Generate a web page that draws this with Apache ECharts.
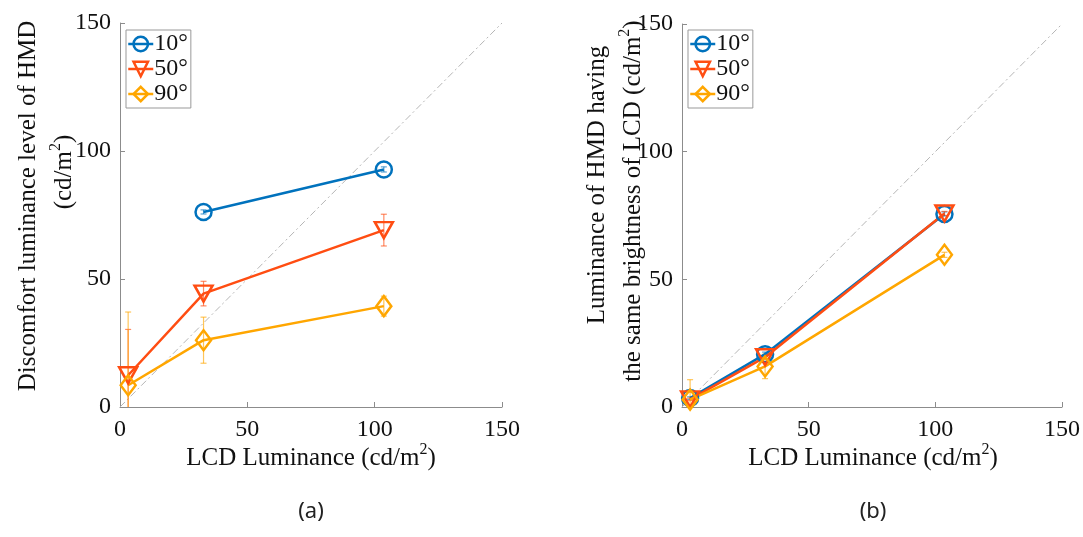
<!DOCTYPE html>
<html><head><meta charset="utf-8">
<script src="https://cdn.jsdelivr.net/npm/echarts@6/dist/echarts.min.js"></script>
<style>html,body{margin:0;padding:0;background:#fff}#c{width:1083px;height:537px}</style>
</head><body><div id="c"></div><script>
// ---- data ----
const lcd = [3.2, 32.8, 103.6];            // LCD luminance (cd/m2)
const names = ['10°', '50°', '90°'];
const ticks = [0, 50, 100, 150];
// panel (a): discomfort luminance level of HMD
const aDisc10 = [null, 76.2, 92.8];
const aDisc50 = [12.4, 44.3, 69.1];
const aDisc90 = [8.5, 26.1, 39.4];
const aErr10 = [0, 0.8, 1.0];
const aErr50 = [17.9, 4.8, 6.2];
const aErr90 = [28.6, 9.0, 3.9];
// panel (b): luminance of HMD having same brightness of LCD
const bMatch10 = [3.5, 20.7, 75.6];
const bMatch50 = [3.0, 19.5, 75.8];
const bMatch90 = [2.9, 15.9, 59.6];
const bErr10 = [0.5, 0.8, 0.8];
const bErr50 = [0.5, 0.8, 0.8];
const bErr90 = [7.8, 4.8, 1.0];

const colors = ['#0072BD', '#FF4D12', '#FFA600'];
const symbols = ['circle', 'path://M0,0L20,0L10,17Z', 'diamond'];
const sizes = [16, [18, 16], [15, 20]];
const FONT = '"Liberation Serif", "Times New Roman", serif';

function pts(ys) { return lcd.map((x, i) => ys[i] == null ? null : [x, ys[i]]).filter(Boolean); }
function errPts(ys, es) { return lcd.map((x, i) => ys[i] == null ? null : [x, ys[i] - es[i], ys[i] + es[i]]).filter(Boolean); }

function lineSeries(k, ys, gi) {
  return {
    type: 'line', name: names[k], xAxisIndex: gi, yAxisIndex: gi, data: pts(ys),
    symbol: symbols[k], symbolSize: sizes[k], showAllSymbol: true,
    lineStyle: { color: colors[k], width: 2.5 },
    itemStyle: { color: 'rgba(255,255,255,0)', borderColor: colors[k], borderWidth: 2.5 },
    z: 4, animation: false
  };
}
function errSeries(k, ys, es, gi) {
  const c = colors[k];
  return {
    type: 'custom', xAxisIndex: gi, yAxisIndex: gi, data: errPts(ys, es), clip: true, z: 3, animation: false,
    renderItem: function (params, api) {
      const x = api.value(0), lo = api.value(1), hi = api.value(2);
      const p1 = api.coord([x, hi]), p2 = api.coord([x, lo]);
      const w = 3;
      const st = { stroke: c, lineWidth: 1.2, opacity: 0.65 };
      return { type: 'group', children: [
        { type: 'line', shape: { x1: p1[0], y1: p1[1], x2: p2[0], y2: p2[1] }, style: st },
        { type: 'line', shape: { x1: p1[0] - w, y1: p1[1], x2: p1[0] + w, y2: p1[1] }, style: st },
        { type: 'line', shape: { x1: p2[0] - w, y1: p2[1], x2: p2[0] + w, y2: p2[1] }, style: st }
      ] };
    }
  };
}
function diag(gi) {
  return {
    type: 'line', xAxisIndex: gi, yAxisIndex: gi, data: [[0, 0], [150, 150]], symbol: 'none', silent: true,
    lineStyle: { color: '#b5b5b5', width: 1, type: [7, 3, 2, 3] }, z: 1, animation: false
  };
}
function axisCommon(gi, margin) {
  return {
    type: 'value', gridIndex: gi, min: ticks[0], max: ticks[ticks.length - 1], interval: 50,
    axisLine: { lineStyle: { color: '#8c8c8c', width: 1 } },
    axisTick: { inside: true, length: 5, lineStyle: { color: '#8c8c8c' } },
    splitLine: { show: false },
    axisLabel: { color: '#111', fontFamily: FONT, fontSize: 24, margin: margin }
  };
}
function legend(left) {
  return {
    left: left, top: 30, orient: 'vertical', data: names,
    backgroundColor: '#fff', borderColor: '#999', borderWidth: 1, borderRadius: 0,
    padding: [2, 3, 2, 1], itemGap: 1, itemWidth: 25, itemHeight: 18,
    lineStyle: { width: 2.5 }, itemStyle: { borderWidth: 2.5 },
    textStyle: { fontFamily: FONT, fontSize: 24, color: '#111', lineHeight: 24, padding: [0, 0, 0, -4] },
    selectedMode: false
  };
}
const rich = {
  m: { fontFamily: FONT, fontSize: 25, lineHeight: 32, fill: '#111', color: '#111' },
  s: { fontFamily: FONT, fontSize: 16, lineHeight: 16, verticalAlign: 'top', fill: '#111', color: '#111' }
};
function txt(x, y, text, rot) {
  return {
    type: 'text', x: x, y: y, rotation: rot || 0, silent: true,
    style: { text: text, rich: rich, align: 'center', verticalAlign: 'middle', textAlign: 'center', textVerticalAlign: 'middle', fill: '#111' }
  };
}

const chart = echarts.init(document.getElementById('c'), null, { renderer: 'canvas' });
chart.setOption({
  backgroundColor: '#fff',
  animation: false,
  grid: [
    { left: 120, top: 23, width: 382, height: 384 },
    { left: 682, top: 24, width: 382, height: 383 }
  ],
  xAxis: [axisCommon(0, 11), axisCommon(1, 11)],
  yAxis: [axisCommon(0, 9), axisCommon(1, 9)],
  legend: [legend(126), legend(688)],
  series: [
    diag(0), diag(1),
    errSeries(0, aDisc10, aErr10, 0), errSeries(1, aDisc50, aErr50, 0), errSeries(2, aDisc90, aErr90, 0),
    errSeries(0, bMatch10, bErr10, 1), errSeries(1, bMatch50, bErr50, 1), errSeries(2, bMatch90, bErr90, 1),
    lineSeries(0, aDisc10, 0), lineSeries(1, aDisc50, 0), lineSeries(2, aDisc90, 0),
    lineSeries(0, bMatch10, 1), lineSeries(1, bMatch50, 1), lineSeries(2, bMatch90, 1)
  ],
  graphic: [
    txt(311, 458, '{m|LCD Luminance (cd/m}{s|2}{m|)}'),
    txt(873, 458, '{m|LCD Luminance (cd/m}{s|2}{m|)}'),
    txt(28, 206, '{m|Discomfort luminance level of HMD}', Math.PI / 2),
    txt(64, 172, '{m|(cd/m}{s|2}{m|)}', Math.PI / 2),
    txt(597, 185, '{m|Luminance of HMD having}', Math.PI / 2),
    txt(633, 201, '{m|the same brightness of LCD (cd/m}{s|2}{m|)}', Math.PI / 2),
    { type: 'text', x: 311, y: 512, silent: true, style: { text: '(a)', font: '22px "Noto Sans", sans-serif', fill: '#222', align: 'center', verticalAlign: 'middle', textAlign: 'center', textVerticalAlign: 'middle' } },
    { type: 'text', x: 873, y: 512, silent: true, style: { text: '(b)', font: '22px "Noto Sans", sans-serif', fill: '#222', align: 'center', verticalAlign: 'middle', textAlign: 'center', textVerticalAlign: 'middle' } }
  ]
});
</script></body></html>
